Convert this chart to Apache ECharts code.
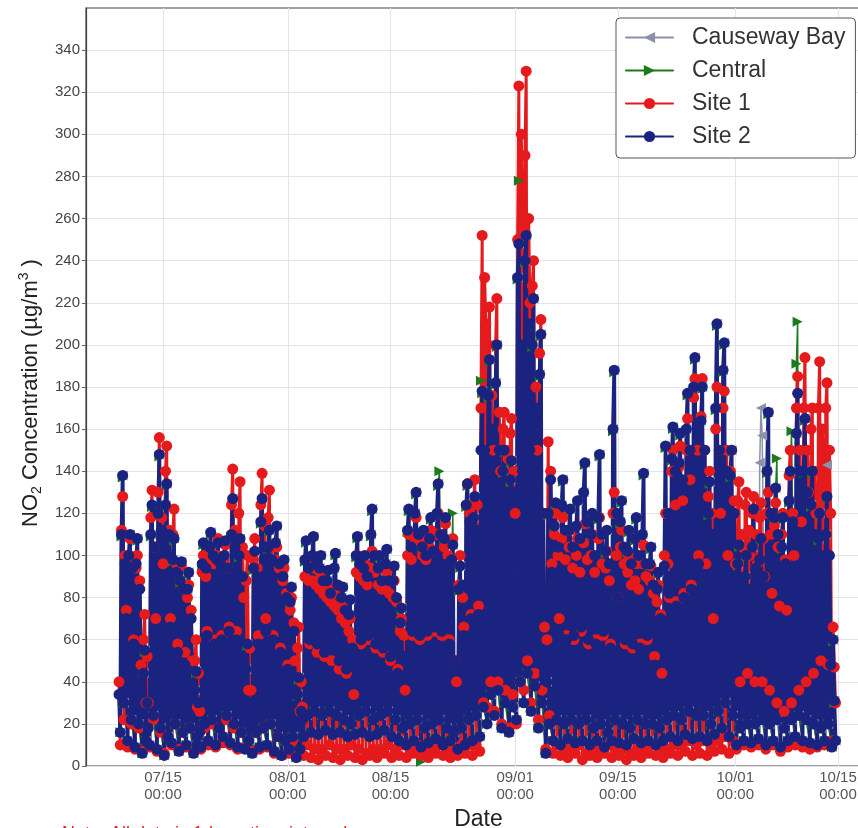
<!DOCTYPE html>
<html>
<head>
<meta charset="utf-8">
<title>NO2 Concentration</title>
<script src="https://cdn.jsdelivr.net/npm/echarts@6/dist/echarts.min.js"></script>
<style>
  html, body { margin: 0; padding: 0; background: #ffffff; }
  #chart { width: 858px; height: 828px; }
</style>
</head>
<body>
<div id="chart"></div>
<script>
// Hourly NO2 record, read every 4 h (Site 1 / Site 2) and at 04-16 h (Causeway Bay / Central).
// One row per day, first row = 07/09.
const firstDay = '2019-07-09';
const hoursSite = [0, 4, 8, 12, 16, 20];
const hoursStation = [4, 8, 12, 16];

const site2 = [
  [34,16,110,138,30,96],[70,12,100,110,22,94],[58,9,96,108,20,84],[40,6,44,55,12,30],[18,10,110,124,24,104],[62,8,120,148,18,112],[80,5,124,134,14,110],
  [66,11,98,108,20,92],[54,7,88,97,16,84],[48,10,84,92,18,70],[34,6,36,45,10,30],[16,9,96,106,20,94],[62,12,104,111,22,100],[58,10,98,106,18,96],
  [60,14,100,107,24,94],[64,11,110,127,20,104],[60,9,100,108,16,90],[44,8,46,58,12,30],[18,6,94,102,16,90],[58,9,116,127,18,104],[64,10,104,112,20,98],
  [60,7,106,114,14,96],[54,5,90,98,12,80],[46,8,78,85,14,64],[34,4,34,42,8,26],[22,14,98,107,24,94],[60,16,100,109,26,96],[58,15,94,100,24,88],
  [54,17,88,93,26,82],[56,15,94,101,24,86],[50,16,80,85,22,74],[46,14,72,79,20,56],[28,15,100,109,24,96],[60,16,94,100,26,90],[62,14,110,122,22,100],
  [58,15,94,100,24,88],[56,17,96,103,26,88],[52,14,88,95,22,80],[44,12,68,75,18,52],[30,10,112,122,20,104],[64,12,120,130,22,110],[62,9,104,112,18,100],
  [64,11,108,118,20,102],[66,13,120,134,22,110],[64,10,108,118,18,96],[58,12,98,105,16,50],[24,8,84,95,18,86],[62,10,124,134,22,116],[70,12,118,128,24,112],
  [72,14,150,178,28,150],[96,20,176,193,34,160],[104,24,182,200,36,150],[80,18,140,150,30,130],[76,16,136,145,28,130],[90,22,232,248,40,200],[140,30,240,252,44,210],
  [150,26,200,222,38,170],[120,18,186,205,30,120],[44,6,40,120,20,136],[92,12,114,125,22,104],[62,10,124,136,20,112],[60,13,112,122,22,104],[62,11,114,126,20,108],
  [66,12,130,144,22,116],[60,10,110,120,18,100],[58,12,118,148,20,110],[64,9,102,112,16,96],[56,12,160,188,22,120],[80,11,116,126,20,104],[60,10,102,112,18,96],
  [58,13,108,118,22,100],[56,11,110,139,20,96],[62,12,96,104,20,86],[48,10,84,92,18,70],[30,12,95,152,22,120],[82,14,146,161,24,140],[76,12,144,158,22,136],
  [80,15,160,177,26,150],[84,13,180,194,24,160],[96,14,164,180,24,150],[80,12,120,135,20,110],[56,15,170,210,26,150],[110,18,188,201,30,140],[90,14,138,150,24,120],
  [60,10,96,105,18,88],[52,12,90,100,20,84],[54,11,104,122,20,94],[50,13,98,108,22,90],[46,10,140,168,20,120],[70,12,118,132,22,110],[62,9,104,118,18,96],
  [56,12,126,140,22,116],[70,14,158,177,24,140],[74,12,140,165,22,130],[78,11,124,140,20,110],[62,10,108,120,18,100],[56,12,110,128,20,100],[48,9,60,31,12]
];

const site1 = [
  [40,10,112,128,22,100],[74,9,100,108,20,96],[60,8,94,100,18,88],[48,7,60,72,30,52],[30,9,118,131,22,104],[70,7,130,156,16,118],[96,6,140,152,14,112],
  [70,10,110,122,20,96],[58,8,88,95,16,84],[54,9,80,86,18,74],[50,7,50,60,28,44],[26,8,92,100,18,90],[64,10,98,104,20,96],[60,9,100,108,18,98],
  [62,11,98,105,22,94],[66,10,124,141,18,112],[64,8,120,135,16,104],[80,9,88,100,36,56],[36,7,98,108,16,94],[62,8,124,139,18,114],[70,9,118,131,20,104],
  [62,6,98,104,14,94],[56,5,88,94,12,82],[48,6,74,80,12,68],[50,5,56,66,26,40],[28,5,90,98,10,88],[58,4,88,94,8,86],[54,3,84,90,8,82],
  [52,5,80,86,10,78],[50,4,76,82,8,74],[46,3,70,76,8,68],[44,5,64,70,10,60],[34,4,92,100,8,90],[58,3,88,96,6,86],[60,5,94,102,8,92],
  [56,4,86,94,8,84],[54,6,84,92,10,82],[50,4,80,88,8,78],[46,5,64,70,10,62],[36,4,100,110,8,98],[62,6,108,118,10,106],[60,5,100,108,8,98],
  [62,4,104,112,8,102],[64,6,110,120,10,110],[62,5,104,115,8,100],[60,4,98,108,8,50],[40,5,86,100,10,80],[66,6,124,134,10,120],[72,5,124,136,10,124],
  [76,7,170,252,30,232],[210,28,200,218,40,176],[150,26,200,222,40,168],[140,20,160,168,36,150],[146,18,158,165,34,140],[120,20,250,323,40,300],[265,36,290,330,50,260],
  [220,30,228,240,44,180],[150,22,196,212,36,120],[66,8,60,154,24,140],[96,6,110,120,10,100],[70,5,108,118,8,98],[62,4,104,112,8,94],[60,6,100,108,10,92],
  [64,3,106,115,6,98],[58,5,100,110,8,92],[60,4,108,118,8,96],[62,6,94,102,10,88],[58,4,120,130,8,100],[80,5,104,112,8,96],[58,3,92,100,6,86],
  [56,5,88,96,8,84],[58,4,96,105,8,90],[60,6,88,95,10,82],[52,5,78,86,8,72],[44,4,100,120,8,96],[80,6,140,150,10,124],[78,5,142,152,10,126],
  [82,7,150,165,12,136],[86,5,175,184,10,150],[100,6,166,184,12,150],[96,5,128,140,10,120],[70,7,160,180,12,150],[120,8,170,178,14,150],[100,6,140,150,12,126],
  [96,8,126,135,40,110],[104,10,124,130,44,112],[100,9,120,128,40,110],[96,10,118,125,40,108],[90,8,120,130,36,110],[82,10,114,125,30,104],[76,7,110,120,26,98],
  [74,9,138,150,30,120],[100,10,170,185,36,150],[116,9,170,194,40,150],[130,8,160,170,44,140],[120,9,170,192,50,160],[150,10,170,182,48,150],[120,12,66,47,30]
];

const central = [
  [16,109,137,30],[12,99,109,22],[9,95,107,20],[6,43,54,12],[10,109,123,24],[8,119,147,18],[5,123,133,14],
  [11,97,107,20],[7,87,96,16],[10,83,91,18],[6,35,44,10],[9,95,105,20],[12,103,110,22],[10,97,105,18],
  [14,99,106,24],[11,109,126,20],[9,99,107,16],[8,45,57,12],[6,93,101,16],[9,115,126,18],[10,103,111,20],
  [7,105,113,14],[5,89,97,12],[8,77,84,14],[4,33,41,8],[14,97,106,24],[16,99,108,26],[15,93,99,24],
  [17,87,92,26],[15,93,100,24],[16,79,84,22],[14,71,78,20],[15,99,108,24],[16,93,99,26],[14,109,121,22],
  [15,93,99,24],[17,95,102,26],[14,87,94,22],[12,67,74,18],[10,111,121,20],[12,119,129,22],[2,103,111,18],
  [11,107,117,20],[13,119,133,140],[10,107,117,18],[12,97,120,16],[8,83,94,18],[10,123,133,22],[12,117,127,24],
  [14,183,177,28],[20,175,192,34],[24,181,199,36],[18,139,149,30],[16,135,144,28],[22,231,278,40],[30,239,251,44],
  [26,199,221,38],[18,185,204,30],[6,39,119,20],[12,113,124,22],[10,123,135,20],[13,111,121,22],[11,113,125,20],
  [12,129,143,22],[10,109,119,18],[12,117,147,20],[9,101,111,16],[12,159,187,22],[11,115,125,20],[10,101,111,18],
  [13,107,117,22],[11,109,138,20],[12,95,103,20],[10,83,91,18],[12,94,151,22],[14,145,160,24],[12,143,157,22],
  [15,159,176,26],[13,179,193,24],[14,163,179,24],[12,119,134,20],[15,169,209,26],[18,187,200,30],[14,137,149,24],
  [10,95,104,18],[12,89,99,20],[11,103,121,20],[13,97,107,22],[10,139,167,20],[12,117,131,146],[9,103,117,18],
  [12,125,139,159],[14,191,211,24],[12,139,164,22],[11,123,139,20],[10,107,119,18],[12,109,127,20],[9,59,30,12]
];

const causewayBay = [
  [16,110,138,30],[12,100,110,22],[9,96,108,20],[6,44,55,12],[10,110,124,24],[8,120,148,18],[5,124,134,14],
  [11,98,108,20],[7,88,97,16],[10,84,92,18],[6,36,45,10],[9,96,106,20],[12,104,111,22],[10,98,106,18],
  [14,100,107,24],[11,110,127,20],[9,100,108,16],[8,46,58,12],[6,94,102,16],[9,116,127,18],[10,104,112,20],
  [7,106,114,14],[5,90,98,12],[8,78,85,14],[4,34,42,8],[14,98,107,24],[16,100,109,26],[15,94,100,24],
  [17,88,93,26],[15,94,101,24],[16,80,85,22],[14,72,79,20],[15,100,109,24],[16,94,100,26],[14,110,122,22],
  [15,94,100,24],[17,96,103,26],[14,88,95,22],[12,68,75,18],[10,112,122,20],[12,120,130,22],[9,104,112,18],
  [11,108,118,20],[13,120,134,22],[10,108,118,18],[12,98,105,16],[8,84,95,18],[10,124,134,22],[12,118,128,24],
  [14,150,178,28],[20,176,193,34],[24,182,200,36],[18,140,150,30],[16,136,145,28],[22,232,248,40],[30,240,252,44],
  [26,200,222,38],[18,186,205,30],[6,40,120,20],[12,114,125,22],[10,124,136,20],[13,112,122,22],[11,114,126,20],
  [12,130,144,22],[10,110,120,18],[12,118,148,20],[9,102,112,16],[9,160,188,22],[11,116,126,20],[10,102,112,18],
  [13,108,118,22],[11,110,139,20],[12,96,104,20],[10,84,92,18],[12,95,152,22],[14,146,161,24],[12,144,158,22],
  [15,160,177,26],[13,180,194,24],[14,164,180,24],[12,120,135,20],[15,170,210,26],[18,188,201,30],[14,138,150,24],
  [10,96,105,18],[12,90,100,20],[11,104,122,20],[13,144,170,157],[10,140,168,20],[12,118,132,22],[9,104,118,18],
  [12,126,140,22],[14,158,177,24],[12,140,165,22],[11,124,140,20],[10,108,120,18],[12,110,143,20],[9,60,31,12]
];

// Axis extent and tick positions
const axisStart = '2019-07-04T12:00:00Z';
const axisEnd = '2019-10-19T12:00:00Z';
const dateTicks = ['07-15', '08-01', '08-15', '09-01', '09-15', '10-01', '10-15'];
const yTicks = [0, 20, 40, 60, 80, 100, 120, 140, 160, 180, 200, 220, 240, 260, 280, 300, 320, 340];
const yMax = 360;

const HOUR = 3600 * 1000;
const dayZero = Date.parse(firstDay + 'T00:00:00Z');

function toPoints(rows, hours) {
  const pts = [];
  rows.forEach((row, d) => {
    row.forEach((v, k) => {
      pts.push([dayZero + (d * 24 + hours[k]) * HOUR, v]);
    });
  });
  return pts;
}

const tickTimes = dateTicks.map(s => Date.parse('2019-' + s + 'T00:00:00Z'));
const pad2 = n => (n < 10 ? '0' : '') + n;

const FONT = "'Liberation Sans', Arial, Helvetica, sans-serif";

const chart = echarts.init(document.getElementById('chart'), null, { renderer: 'canvas' });

function lineSeries(name, rows, hours, color, symbol, rotate, size, width) {
  return {
    name: name,
    type: 'line',
    data: toPoints(rows, hours),
    symbol: symbol,
    symbolRotate: rotate,
    symbolSize: size,
    showSymbol: true,
    showAllSymbol: true,
    itemStyle: { color: color, opacity: 1 },
    lineStyle: { color: color, width: width, join: 'round', cap: 'round' },
    emphasis: { disabled: true },
    animation: false
  };
}

chart.setOption({
  animation: false,
  backgroundColor: '#ffffff',
  textStyle: { fontFamily: FONT },
  grid: {
    left: 86, right: -13, top: 8, bottom: 62,
    containLabel: false,
    outerBoundsMode: 'none',
    show: true, borderColor: '#444444', borderWidth: 1.2, backgroundColor: '#ffffff'
  },
  legend: {
    left: 616, top: 18,
    orient: 'vertical',
    itemWidth: 47, itemHeight: 14, itemGap: 10,
    padding: [8, 10, 10, 9],
    backgroundColor: '#ffffff',
    borderColor: '#555555', borderWidth: 1, borderRadius: 4,
    textStyle: { fontSize: 23, color: '#333333', fontFamily: FONT, padding: [0, 0, 0, 14] },
    data: ['Causeway Bay', 'Central', 'Site 1', 'Site 2']
  },
  xAxis: {
    // timestamps in ms on a numeric axis, labelled at fixed dates
    type: 'value',
    min: Date.parse(axisStart),
    max: Date.parse(axisEnd),
    name: 'Date',
    nameLocation: 'middle',
    nameGap: 31,
    nameTextStyle: { fontSize: 23, color: '#222222', fontFamily: FONT },
    axisLine: { show: false },
    axisTick: { show: false, customValues: tickTimes },
    axisLabel: {
      customValues: tickTimes,
      margin: 3,
      fontSize: 15, lineHeight: 17, color: '#555555', fontFamily: FONT,
      formatter: function (v) {
        const d = new Date(v);
        return pad2(d.getUTCMonth() + 1) + '/' + pad2(d.getUTCDate()) + '\n' +
               pad2(d.getUTCHours()) + ':' + pad2(d.getUTCMinutes());
      }
    },
    splitLine: { show: true, lineStyle: { color: '#e4e4ec', width: 1 } }
  },
  yAxis: {
    type: 'value',
    min: 0, max: yMax,
    name: '{t|NO}{sub|2}{t| Concentration (µg/m}{sup|3}{t| )}',
    nameLocation: 'middle',
    nameGap: 42,
    nameRotate: 90,
    nameTextStyle: {
      color: '#222222', fontFamily: FONT,
      padding: [0, 12, 0, 0],
      rich: {
        t: { fontSize: 22, lineHeight: 27, color: '#222222', fontFamily: FONT },
        sub: { fontSize: 14, lineHeight: 14, verticalAlign: 'bottom', color: '#222222', fontFamily: FONT },
        sup: { fontSize: 14, lineHeight: 14, verticalAlign: 'top', color: '#222222', fontFamily: FONT }
      }
    },
    axisLine: { show: true, lineStyle: { color: '#444444', width: 1.2 } },
    axisTick: { show: true, length: 4, customValues: yTicks, lineStyle: { color: '#666666' } },
    axisLabel: {
      customValues: yTicks,
      margin: 6, fontSize: 15, color: '#444444', fontFamily: FONT
    },
    splitLine: { show: true, lineStyle: { color: '#e4e4ec', width: 1 } }
  },
  graphic: [{
    type: 'text',
    left: 62, top: 825,
    style: {
      text: 'Note: All data is 1-hour time interval',
      fill: '#e0242b',
      font: '18px ' + FONT
    }
  }],
  series: [
    lineSeries('Causeway Bay', causewayBay, hoursStation, '#8c91aa', 'triangle', 90, 10, 1.5),
    lineSeries('Central', central, hoursStation, '#1b7a1b', 'triangle', -90, 10, 1.5),
    lineSeries('Site 1', site1, hoursSite, '#e41a1c', 'circle', 0, 11, 3),
    lineSeries('Site 2', site2, hoursSite, '#1a2380', 'circle', 0, 11, 3.8)
  ]
});
</script>
</body>
</html>
